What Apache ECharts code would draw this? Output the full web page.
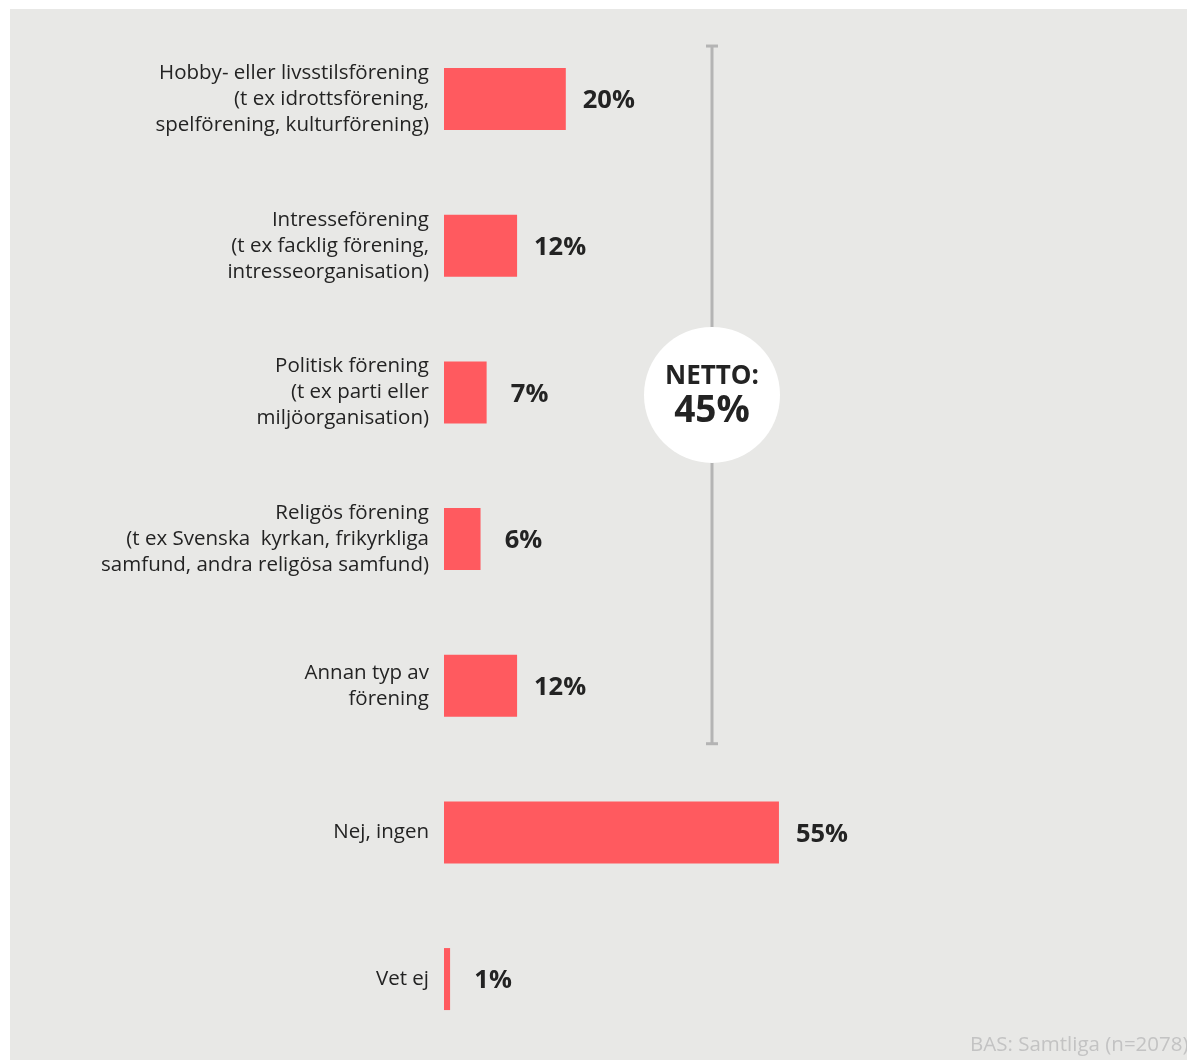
<!DOCTYPE html>
<html>
<head>
<meta charset="utf-8">
<script src="https://cdn.jsdelivr.net/npm/echarts@6/dist/echarts.min.js"></script>
<style>
  html, body { margin: 0; padding: 0; background: #ffffff; }
  #chart { width: 1187px; height: 1060px; }
</style>
</head>
<body>
<div id="chart"></div>
<script>
// Föreningstyper (kategorier) och andel som svarat, i procent
const categories = [
  'Hobby- eller livsstilsförening\n(t ex idrottsförening,\nspelförening, kulturförening)',
  'Intresseförening\n(t ex facklig förening,\nintresseorganisation)',
  'Politisk förening\n(t ex parti eller\nmiljöorganisation)',
  'Religös förening\n(t ex Svenska  kyrkan, frikyrkliga\nsamfund, andra religösa samfund)',
  'Annan typ av\nförening',
  'Nej, ingen',
  'Vet ej'
];
const shares = [20, 12, 7, 6, 12, 55, 1];

// Nettoandel för de fem föreningstyperna
const nettoLabel = 'NETTO:';
const nettoShare = 45;
const nettoFirst = 0;
const nettoLast = 4;

const baseNote = 'BAS: Samtliga (n=2078)';

const FONT = '"Open Sans", "Noto Sans", sans-serif';
const INK = '#232323';
const BAR = '#ff5a5f';

const chart = echarts.init(document.getElementById('chart'), null, { renderer: 'canvas' });

chart.setOption({
  backgroundColor: '#ffffff',
  animation: false,
  grid: { left: 444, right: 134, top: 25.7, height: 1026.7, containLabel: false },
  xAxis: { type: 'value', min: 0, max: 100, show: false },
  yAxis: {
    type: 'category',
    data: categories,
    inverse: true,
    axisLine: { show: false },
    axisTick: { show: false },
    splitLine: { show: false },
    axisLabel: {
      margin: 15,
      color: INK,
      fontFamily: FONT,
      fontSize: 20.5,
      lineHeight: 26,
      align: 'right'
    }
  },
  series: [{
    type: 'bar',
    data: shares,
    barWidth: 62,
    itemStyle: { color: BAR },
    label: {
      show: true,
      position: 'right',
      distance: 43,
      align: 'center',
      verticalAlign: 'middle',
      offset: [0, 2],
      formatter: '{c}%',
      color: INK,
      fontFamily: FONT,
      fontWeight: 'bold',
      fontSize: 25.5
    }
  }]
});

// Panel, nettolinje med cirkel och basnotering
function drawDecor() {
  const yTop = chart.convertToPixel({ yAxisIndex: 0 }, categories[nettoFirst]) - 54;
  const yBot = chart.convertToPixel({ yAxisIndex: 0 }, categories[nettoLast]) + 59;
  const cx = 712;
  const cy = (yTop + yBot) / 2;
  chart.setOption({
    graphic: [
      { type: 'rect', z: -10, silent: true, shape: { x: 10, y: 9, width: 1177, height: 1051 }, style: { fill: '#e8e8e6' } },
      { type: 'line', silent: true, shape: { x1: cx, y1: yTop, x2: cx, y2: yBot }, style: { stroke: '#b4b4b4', lineWidth: 3 } },
      { type: 'line', silent: true, shape: { x1: cx - 6, y1: yTop + 1, x2: cx + 6, y2: yTop + 1 }, style: { stroke: '#b4b4b4', lineWidth: 3 } },
      { type: 'line', silent: true, shape: { x1: cx - 6, y1: yBot - 1, x2: cx + 6, y2: yBot - 1 }, style: { stroke: '#b4b4b4', lineWidth: 3 } },
      { type: 'circle', silent: true, shape: { cx: cx, cy: cy, r: 68 }, style: { fill: '#ffffff' } },
      { type: 'text', silent: true, x: cx, y: cy - 18, style: { text: nettoLabel, fill: INK, font: 'bold 26px ' + FONT, align: 'center', verticalAlign: 'middle' } },
      { type: 'text', silent: true, x: cx, y: cy + 17, style: { text: nettoShare + '%', fill: INK, font: 'bold 37px ' + FONT, align: 'center', verticalAlign: 'middle' } },
      { type: 'text', silent: true, x: 970, y: 1045, style: { text: baseNote, fill: '#c3c3c3', font: '20.5px ' + FONT, align: 'left', verticalAlign: 'middle' } }
    ]
  });
}
drawDecor();
</script>
</body>
</html>
